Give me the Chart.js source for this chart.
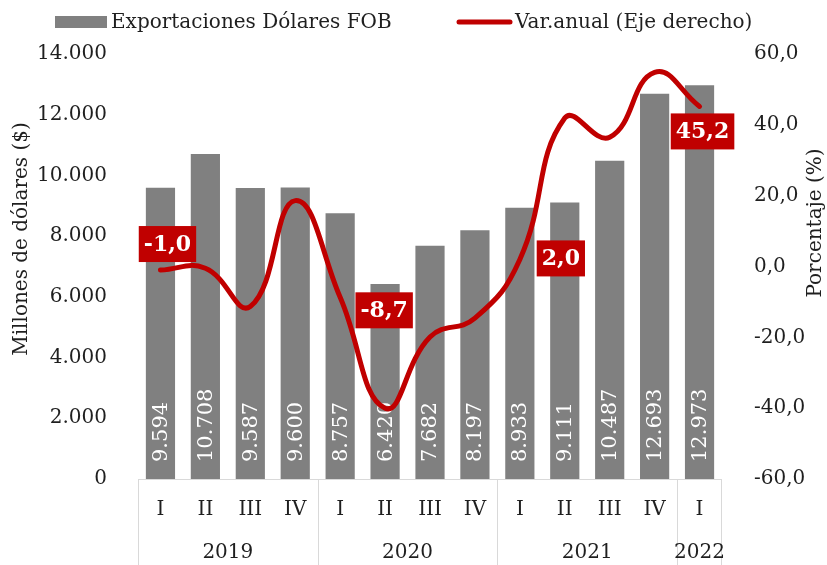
<!DOCTYPE html>
<html>
<head>
<meta charset="utf-8">
<script src="https://cdn.jsdelivr.net/npm/chart.js@4"></script>
<style>
  body { margin: 0; background: #fff; }
  #caja { width: 827px; height: 565px; }
</style>
</head>
<body>
<div id="caja"><canvas id="grafico"></canvas></div>
<script>
// Datos del gráfico
const trimestres = ['I', 'II', 'III', 'IV', 'I', 'II', 'III', 'IV', 'I', 'II', 'III', 'IV', 'I'];
const anios = ['2019', '2019', '2019', '2019', '2020', '2020', '2020', '2020', '2021', '2021', '2021', '2021', '2022'];
const exportaciones = [9594, 10708, 9587, 9600, 8757, 6420, 7682, 8197, 8933, 9111, 10487, 12693, 12973];
const variacion = [-1.0, -0.5, -11.3, 18.6, -8.7, -40.0, -19.9, -14.6, 2.0, 41.9, 36.5, 54.8, 45.2];
const etiquetasVar = [0, 4, 8, 12]; // puntos con etiqueta

const fuente = "'DejaVu Serif', serif";
const gris = '#808080';
const rojo = '#C00000';
const texto = '#1f1f1f';

// Formato con punto de miles
function miles(v) {
    return String(v).replace(/\B(?=(\d{3})+(?!\d))/g, '.');
}
function coma(v) {
    return v.toFixed(1).replace('.', ',');
}

// Etiquetas verticales dentro de las barras
const etiquetasBarras = {
    id: 'etiquetasBarras',
    afterDatasetDraw(chart, args) {
        if (args.index !== 0) return;
        const ctx = chart.ctx;
        const base = chart.scales.y.getPixelForValue(0);
        ctx.save();
        ctx.fillStyle = '#fff';
        ctx.font = '21px ' + fuente;
        ctx.textAlign = 'left';
        ctx.textBaseline = 'middle';
        args.meta.data.forEach((barra, i) => {
            ctx.save();
            ctx.translate(barra.x, base - 17);
            ctx.rotate(-Math.PI / 2);
            ctx.fillText(miles(exportaciones[i]), 0, 1);
            ctx.restore();
        });
        ctx.restore();
    }
};

// Cajas rojas de la variación, leyenda, títulos y eje agrupado
const extras = {
    id: 'extras',
    afterDatasetsDraw(chart) {
        const ctx = chart.ctx;
        const meta = chart.getDatasetMeta(1);
        const desplaz = { 0: [7, -26], 4: [44, 13], 8: [41, -1], 12: [3, 25] };
        ctx.save();
        ctx.font = 'bold 22px ' + fuente;
        ctx.textAlign = 'center';
        ctx.textBaseline = 'middle';
        etiquetasVar.forEach(i => {
            const p = meta.data[i];
            const d = desplaz[i];
            const txt = coma(variacion[i]);
            const w = ctx.measureText(txt).width + 10;
            const h = 36;
            const cx = p.x + d[0], cy = p.y + d[1];
            ctx.fillStyle = rojo;
            ctx.fillRect(cx - w / 2, cy - h / 2, w, h);
            ctx.fillStyle = '#fff';
            ctx.fillText(txt, cx, cy + 1);
        });
        ctx.restore();
    },
    afterDraw(chart) {
        const ctx = chart.ctx;
        const area = chart.chartArea;
        const x = chart.scales.x;
        const paso = x.getPixelForValue(1) - x.getPixelForValue(0);
        ctx.save();

        // Líneas del eje agrupado
        ctx.strokeStyle = '#d9d9d9';
        ctx.lineWidth = 1;
        ctx.beginPath();
        ctx.moveTo(area.left, area.bottom + 0.5);
        ctx.lineTo(area.right, area.bottom + 0.5);
        ctx.stroke();
        const grupos = [];
        anios.forEach((a, i) => {
            if (i === 0 || anios[i - 1] !== a) grupos.push({ anio: a, ini: i, fin: i });
            else grupos[grupos.length - 1].fin = i;
        });
        ctx.font = '20px ' + fuente;
        ctx.fillStyle = texto;
        ctx.textAlign = 'center';
        ctx.textBaseline = 'middle';
        grupos.forEach((g, k) => {
            const izq = x.getPixelForValue(g.ini) - paso / 2;
            const der = x.getPixelForValue(g.fin) + paso / 2;
            ctx.beginPath();
            ctx.moveTo(Math.round(izq) + 0.5, area.bottom);
            ctx.lineTo(Math.round(izq) + 0.5, chart.height);
            if (k === grupos.length - 1) {
                ctx.moveTo(Math.round(der) - 0.5, area.bottom);
                ctx.lineTo(Math.round(der) - 0.5, chart.height);
            }
            ctx.stroke();
            ctx.fillText(g.anio, (izq + der) / 2, 553);
        });

        // Títulos de los ejes
        ctx.save();
        ctx.translate(22, 239);
        ctx.rotate(-Math.PI / 2);
        ctx.fillText('Millones de dólares ($)', 0, 0);
        ctx.restore();
        ctx.save();
        ctx.translate(816, 223);
        ctx.rotate(-Math.PI / 2);
        ctx.fillText('Porcentaje (%)', 0, 0);
        ctx.restore();

        // Leyenda
        ctx.textAlign = 'left';
        ctx.fillStyle = gris;
        ctx.fillRect(55, 16, 52, 12);
        ctx.fillStyle = texto;
        ctx.fillText(chart.data.datasets[0].label, 111, 23);
        ctx.strokeStyle = rojo;
        ctx.lineWidth = 5;
        ctx.lineCap = 'round';
        ctx.beginPath();
        ctx.moveTo(459, 22);
        ctx.lineTo(510, 22);
        ctx.stroke();
        ctx.fillText(chart.data.datasets[1].label, 515, 23);
        ctx.restore();
    }
};

const ctx = document.getElementById('grafico').getContext('2d');
new Chart(ctx, {
    type: 'bar',
    data: {
        labels: trimestres,
        datasets: [
            {
                type: 'bar',
                label: 'Exportaciones Dólares FOB',
                data: exportaciones,
                backgroundColor: gris,
                barPercentage: 0.65,
                categoryPercentage: 1,
                yAxisID: 'y',
                order: 2
            },
            {
                type: 'line',
                label: 'Var.anual (Eje derecho)',
                data: variacion,
                borderColor: rojo,
                borderWidth: 5,
                borderCapStyle: 'round',
                tension: 0.45,
                pointRadius: 0,
                yAxisID: 'y1',
                order: 1
            }
        ]
    },
    options: {
        responsive: true,
        maintainAspectRatio: false,
        animation: false,
        layout: { padding: { top: 54, left: 0, right: 0, bottom: 0 } },
        plugins: {
            legend: { display: false },
            tooltip: { enabled: false }
        },
        scales: {
            x: {
                offset: true,
                grid: { display: false },
                border: { display: false },
                ticks: { color: texto, font: { family: fuente, size: 20 }, padding: 11, maxRotation: 0 },
                afterFit(s) { s.height = 86; }
            },
            y: {
                position: 'left',
                min: 0,
                max: 14000,
                grid: { display: false },
                border: { display: false },
                ticks: {
                    stepSize: 2000,
                    color: texto,
                    font: { family: fuente, size: 20 },
                    padding: 23,
                    callback: v => miles(v)
                },
                afterFit(s) { s.width = 138; }
            },
            y1: {
                position: 'right',
                min: -60,
                max: 60,
                grid: { display: false },
                border: { display: false },
                ticks: {
                    stepSize: 20,
                    color: texto,
                    font: { family: fuente, size: 20 },
                    padding: 24,
                    callback: v => coma(v)
                },
                afterFit(s) { s.width = 105; }
            }
        }
    },
    plugins: [etiquetasBarras, extras]
});
</script>
</body>
</html>
